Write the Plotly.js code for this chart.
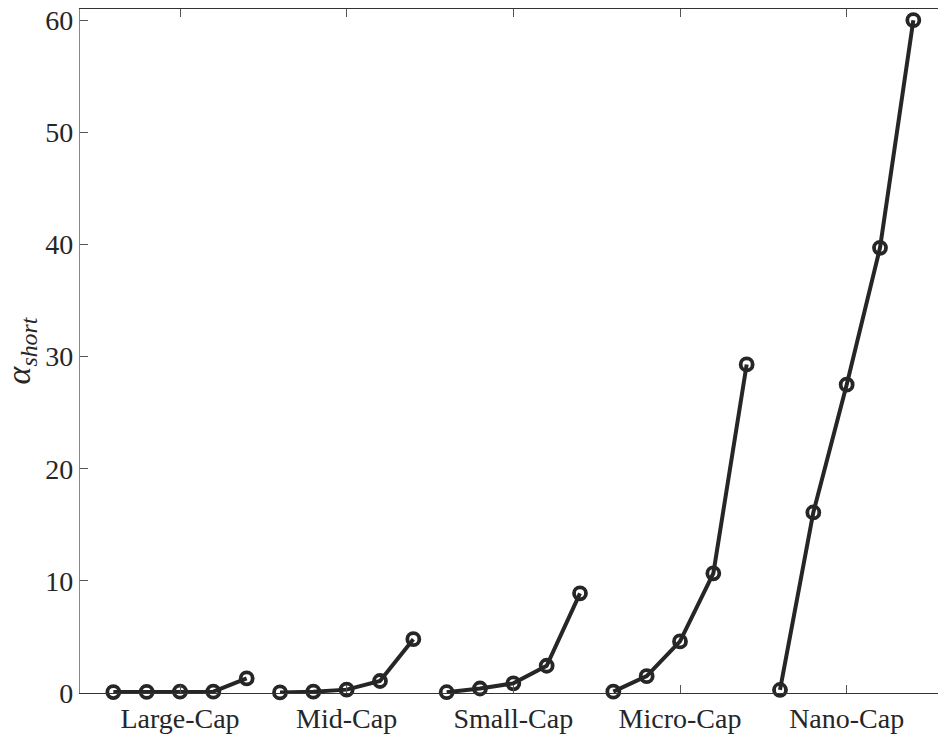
<!DOCTYPE html>
<html>
<head>
<meta charset="utf-8">
<script src="https://cdn.plot.ly/plotly-3.0.1.min.js"></script>
<style>html,body{margin:0;padding:0;background:#fff;}#chart{width:938px;height:736px;}</style>
</head>
<body>
<div id="chart"></div>
<script>
const categories = ["Large-Cap", "Mid-Cap", "Small-Cap", "Micro-Cap", "Nano-Cap"];
const largeCap = [0.08, 0.1, 0.12, 0.12, 1.3];
const midCap = [0.05, 0.12, 0.3, 1.07, 4.8];
const smallCap = [0.07, 0.4, 0.86, 2.43, 8.89];
const microCap = [0.12, 1.5, 4.6, 10.67, 29.3];
const nanoCap = [0.27, 16.1, 27.5, 39.7, 60.0];
const yTicks = [0, 10, 20, 30, 40, 50, 60];

const series = [largeCap, midCap, smallCap, microCap, nanoCap];
const color = '#262626';
const traces = series.map((vals, g) => ({
  x: vals.map((v, i) => g * 5 + i + 1),
  y: vals,
  type: 'scatter',
  mode: 'lines+markers',
  line: {color: color, width: 4},
  marker: {symbol: 'circle-open', size: 12, color: color, line: {width: 3.8, color: color}},
  showlegend: false,
  cliponaxis: false
}));
const tickvals = categories.map((c, g) => g * 5 + 3);
const serif = '"Liberation Serif", "Times New Roman", serif';

const layout = {
  width: 938, height: 736,
  margin: {l: 80, r: 0, t: 9, b: 43},
  paper_bgcolor: '#fff', plot_bgcolor: '#fff',
  font: {family: serif, color: '#262626', size: 28},
  xaxis: {
    range: [0, 25.74], tickvals: tickvals, ticktext: categories,
    showgrid: false, zeroline: false, showline: true, linecolor: '#333', linewidth: 1.2,
    mirror: 'ticks', ticks: 'inside', ticklen: 8, tickcolor: '#555', tickwidth: 1,
    tickfont: {size: 28, family: serif, color: '#262626'}
  },
  yaxis: {
    range: [0, 61], tickvals: yTicks,
    showgrid: false, zeroline: false, showline: true, linecolor: '#888', linewidth: 1.2,
    mirror: false, ticks: 'inside', ticklen: 8, tickcolor: '#555', tickwidth: 1,
    tickfont: {size: 28, family: serif, color: '#262626'},
    title: {text: '<i>α</i><sub><i>short</i></sub>', font: {size: 34, family: serif, color: '#262626'}, standoff: 12}
  }
};
Plotly.newPlot('chart', traces, layout, {staticPlot: true, displayModeBar: false});
</script>
</body>
</html>
